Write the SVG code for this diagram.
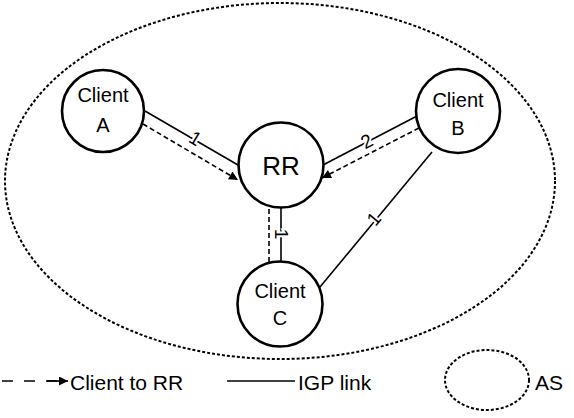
<svg xmlns="http://www.w3.org/2000/svg" width="574" height="418" viewBox="0 0 574 418">
<style>
.node{fill:#fff;stroke:#000;stroke-width:2.6}
.t{font-family:"Liberation Sans",Arial,sans-serif;fill:#000;text-anchor:middle}
.solid{stroke:#000;stroke-width:1.6;fill:none}
.dash{stroke:#000;stroke-width:1.6;fill:none;stroke-dasharray:5 3}
.as{fill:none;stroke:#000;stroke-width:2;stroke-dasharray:3 2}
.lbl{font-family:"Liberation Sans",Arial,sans-serif;font-size:19px;text-anchor:middle;fill:#000;stroke:#fff;stroke-width:4;paint-order:stroke}
.leg{font-family:"Liberation Sans",Arial,sans-serif;font-size:21px;fill:#000}
</style>
<defs>
<marker id="ahL" viewBox="0 0 10 10" refX="10" refY="5" markerWidth="13" markerHeight="9" markerUnits="userSpaceOnUse" orient="auto">
<path d="M0,0 L10,5 L0,10 z" fill="#000"/>
</marker>
</defs>
<rect width="574" height="418" fill="#fff"/>
<g id="as-boundary">
<ellipse class="as" cx="280" cy="181" rx="275" ry="178"/>
</g>
<g id="connectors">
<line class="solid" x1="145" y1="111" x2="238" y2="165"/>
<line class="dash" x1="143" y1="124" x2="238" y2="180" marker-end="url(#ahL)"/>
<line class="solid" x1="417" y1="116" x2="323" y2="165"/>
<line class="dash" x1="419" y1="128" x2="322" y2="178" marker-end="url(#ahL)"/>
<line class="solid" x1="432" y1="152" x2="320" y2="287"/>
<line class="solid" x1="281" y1="208" x2="281" y2="262"/>
<line class="dash" x1="269" y1="262" x2="269" y2="208"/>
<text class="lbl" transform="translate(192,144) rotate(31)">1</text>
<text class="lbl" transform="translate(370,147) rotate(-28.5)">2</text>
<text class="lbl" transform="translate(379,223) rotate(-50)">1</text>
<text class="lbl" transform="translate(275,234) rotate(90)">1</text>
</g>
<g id="client-a">
<circle class="node" cx="103" cy="111" r="41"/>
<text class="t" x="103" y="102" font-size="20">Client</text>
<text class="t" x="103" y="132" font-size="20">A</text>
</g>
<g id="rr">
<circle class="node" cx="281" cy="165" r="42.5"/>
<text class="t" x="281" y="175" font-size="26">RR</text>
</g>
<g id="client-b">
<circle class="node" cx="458" cy="111" r="42"/>
<text class="t" x="458" y="107" font-size="20">Client</text>
<text class="t" x="458" y="135" font-size="20">B</text>
</g>
<g id="client-c">
<circle class="node" cx="280" cy="304" r="42.5"/>
<text class="t" x="280" y="298" font-size="20">Client</text>
<text class="t" x="280" y="325" font-size="20">C</text>
</g>
<g id="legend">
<line x1="2" y1="381" x2="58" y2="381" stroke="#000" stroke-width="1.6" stroke-dasharray="11 11"/>
<line x1="47" y1="381" x2="68" y2="381" stroke="#000" stroke-width="1.6" marker-end="url(#ahL)"/>
<text class="leg" x="70" y="390">Client to RR</text>
<line x1="227" y1="381" x2="295" y2="381" stroke="#000" stroke-width="1.6"/>
<text class="leg" x="298" y="390">IGP link</text>
<ellipse class="as" cx="487" cy="380" rx="42" ry="30"/>
<text class="leg" x="535" y="390">AS</text>
</g>
</svg>
